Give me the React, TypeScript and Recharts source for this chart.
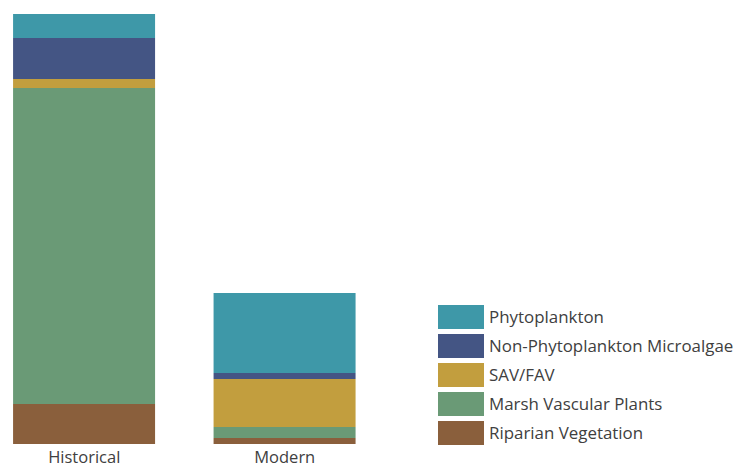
import React from 'react';
import { BarChart, Bar, XAxis, YAxis } from 'recharts';

const periods = ['Historical', 'Modern'];
const riparian = [40, 6];
const marsh = [316, 11];
const savFav = [9, 48];
const nonPhyto = [41, 6];
const phyto = [24, 80];

const SERIES = [
  { key: 'riparian', name: 'Riparian Vegetation', color: '#8A5F3C', values: riparian },
  { key: 'marsh', name: 'Marsh Vascular Plants', color: '#6A9A76', values: marsh },
  { key: 'savFav', name: 'SAV/FAV', color: '#C29E3E', values: savFav },
  { key: 'nonPhyto', name: 'Non-Phytoplankton Microalgae', color: '#445584', values: nonPhyto },
  { key: 'phyto', name: 'Phytoplankton', color: '#3E98A8', values: phyto },
];

const data = periods.map((p, i) => {
  const row: Record<string, any> = { period: p };
  SERIES.forEach(s => { row[s.key] = s.values[i]; });
  return row;
});

const FONT = '"Open Sans", sans-serif';

const LegendBox = () => (
  <div style={{ position: 'absolute', left: 438, top: 302, width: 300, fontFamily: FONT }}>
    {[...SERIES].reverse().map(s => (
      <div key={s.key} style={{ display: 'flex', alignItems: 'center', height: 29 }}>
        <div style={{ width: 46, height: 24, background: s.color, marginRight: 5, flexShrink: 0 }} />
        <span style={{ fontSize: 16.9, color: '#404040', whiteSpace: 'nowrap' }}>{s.name}</span>
      </div>
    ))}
  </div>
);

export default function App() {
  return (
    <div style={{ position: 'absolute', left: 0, top: 0, width: 738, height: 468, overflow: 'hidden' }}>
      <BarChart
        width={738}
        height={468}
        data={data}
        margin={{ top: 14, right: 353, bottom: 0, left: -16 }}
        barCategoryGap="14.5%"
      >
        <XAxis
          dataKey="period"
          axisLine={false}
          tickLine={false}
          height={24}
          interval={0}
          tick={{ fontSize: 16.5, fill: '#404040', fontFamily: FONT, dy: -1 }}
        />
        <YAxis hide domain={[0, 430]} />
        {SERIES.map(s => (
          <Bar key={s.key} dataKey={s.key} name={s.name} stackId="a" fill={s.color} isAnimationActive={false} />
        ))}
      </BarChart>
      <LegendBox />
    </div>
  );
}
